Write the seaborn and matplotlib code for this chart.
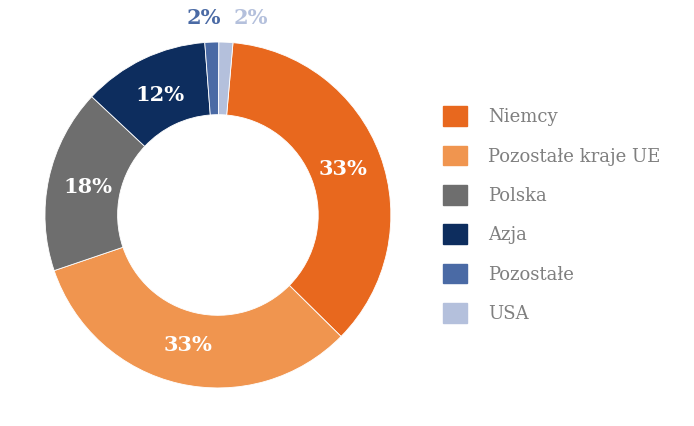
import numpy as np
import matplotlib.pyplot as plt
import seaborn as sns
from matplotlib.patches import Patch

sns.set_style("white")
plt.rcParams["font.family"] = "DejaVu Serif"

labels = ["Niemcy", "Pozostałe kraje UE", "Polska", "Azja", "Pozostałe", "USA"]
values = [36.0, 32.4, 17.2, 11.8, 1.3, 1.3]
pct_labels = ["33%", "33%", "18%", "12%", "2%", "2%"]
colors = ["#E8681E", "#F0954F", "#6E6E6E", "#0D2D5E", "#4A6AA5", "#B4C0DC"]

fig = plt.figure(figsize=(6.94, 4.26), dpi=100)
ax = fig.add_axes([0, 0, 0.628, 1])

wedges, _ = ax.pie(values, colors=colors, startangle=85, counterclock=False,
                   radius=1, wedgeprops=dict(width=0.42, edgecolor="white", linewidth=0.6))

for i, w in enumerate(wedges):
    mid = np.deg2rad((w.theta1 + w.theta2) / 2)
    if values[i] >= 10:
        ax.text(0.77 * np.cos(mid), 0.77 * np.sin(mid), pct_labels[i], ha="center", va="center",
                color="white", fontsize=15, fontweight="bold")
    else:
        dx = -0.04 if labels[i] == "Pozostałe" else 0.14
        ax.text(1.14 * np.cos(mid) + dx, 1.14, pct_labels[i], ha="center", va="center",
                color=colors[i], fontsize=15, fontweight="bold")

ax.set_aspect("auto")
ax.set_xlim(-1.26, 1.26)
ax.set_ylim(-1.22, 1.243)
ax.axis("off")

handles = [Patch(facecolor=c, edgecolor=c) for c in colors]
fig.legend(handles, labels, loc="upper left", bbox_to_anchor=(427 / 694, 1 - 90 / 426),
           frameon=False, fontsize=13, labelspacing=1.08, handlelength=1.3,
           handleheight=1.3, handletextpad=1.2, labelcolor="#7F7F7F")

fig.savefig("out.png", dpi=100)
